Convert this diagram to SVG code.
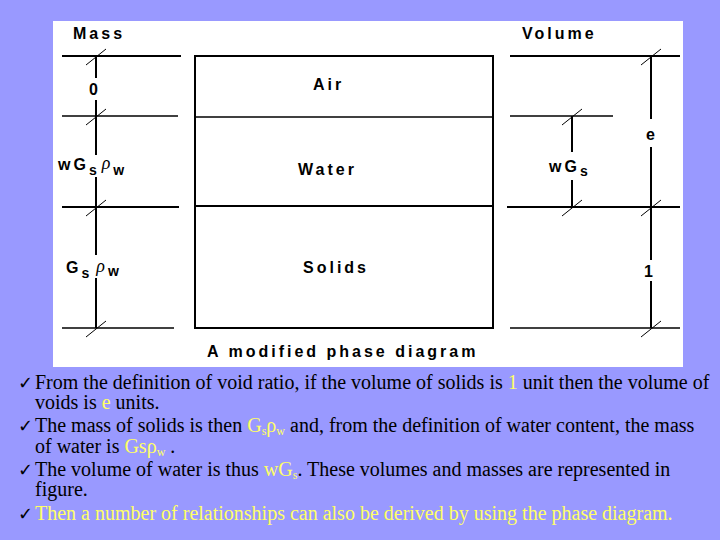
<svg xmlns="http://www.w3.org/2000/svg" width="720" height="540" viewBox="0 0 720 540">
<style>
.lbl{font-family:"Liberation Sans",Arial,sans-serif;font-weight:bold;font-size:16px;fill:#000;letter-spacing:3px}
.sub{font-size:14px}
.rho{font-family:"Liberation Serif","Times New Roman",serif;font-style:italic;font-weight:normal;font-size:18px}
.thick{stroke:#000;stroke-width:2;fill:none}
.thin{stroke:#000;stroke-width:1.5;fill:none}
.tick{stroke:#000;stroke-width:1;fill:none}
.body{font-family:"Liberation Serif","Times New Roman",serif;font-size:20px;fill:#000}
.y{fill:#FFFF66}
.chk{font-family:"DejaVu Sans",sans-serif;font-size:18px;fill:#000}
</style>
<rect x="0" y="0" width="720" height="540" fill="#9999FF"/>
<rect x="53" y="21" width="630" height="346" fill="#FFFFFF"/>

<g id="phases">
  <rect x="195" y="56" width="298" height="272" class="thick"/>
  <line x1="195" y1="117" x2="493" y2="117" class="thin"/>
  <line x1="195" y1="206" x2="493" y2="206" class="thick"/>
  <text x="313" y="90" class="lbl">Air</text>
  <text x="298" y="175" class="lbl">Water</text>
  <text x="303" y="273" class="lbl">Solids</text>
</g>

<g id="mass">
  <text x="73" y="39" class="lbl">Mass</text>
  <line x1="62" y1="56" x2="181" y2="56" class="thick"/>
  <line x1="62" y1="116" x2="178" y2="116" class="thin"/>
  <line x1="62" y1="207" x2="179" y2="207" class="thick"/>
  <line x1="62" y1="328" x2="174" y2="328" class="thin"/>
  <path d="M96 56V78M96 100V155M96 177V255M96 278V328" class="thick"/>
  <text x="89" y="95" class="lbl">0</text>
  <text x="58" y="170" class="lbl">wG<tspan class="sub" dy="5">s</tspan><tspan class="rho" dy="-6" dx="2">ρ</tspan><tspan class="sub" dy="6">w</tspan></text>
  <text x="66" y="273" class="lbl">G<tspan class="sub" dy="5">s</tspan><tspan class="rho" dy="-6" dx="4">ρ</tspan><tspan class="sub" dy="4">w</tspan></text>
</g>

<g id="volume">
  <text x="522" y="39" class="lbl">Volume</text>
  <line x1="510" y1="56" x2="680" y2="56" class="thick"/>
  <line x1="510" y1="116" x2="613" y2="116" class="thin"/>
  <line x1="507" y1="207" x2="680" y2="207" class="thick"/>
  <line x1="510" y1="328" x2="680" y2="328" class="thin"/>
  <path d="M651 56V119M651 147V260M651 281V328M572 116V152M572 180V207" class="thick"/>
  <text x="646" y="140" class="lbl">e</text>
  <text x="549" y="172" class="lbl">wG<tspan class="sub" dy="4">s</tspan></text>
  <text x="644" y="277" class="lbl">1</text>
</g>

<g id="ticks">
  <path d="M86 65L106 49M86 125L106 109M86 216L106 200M86 337L106 321M562 125L582 109M562 216L582 200M641 65L661 49M641 216L661 200M641 337L661 321" class="tick"/>
</g>

<text x="207" y="357" class="lbl">A modified phase diagram</text>

<g id="notes">
  <text x="18" y="389" class="chk">✓</text>
  <text x="35" y="389" class="body">From the definition of void ratio, if the volume of solids is <tspan class="y">1</tspan> unit then the volume of</text>
  <text x="35" y="409" class="body">voids is <tspan class="y">e</tspan> units.</text>
  <text x="18" y="432" class="chk">✓</text>
  <text x="35" y="432" class="body">The mass of solids is then <tspan class="y">G<tspan font-size="12" dy="3">s</tspan><tspan dy="-3">ρ</tspan><tspan font-size="12" dy="3">w</tspan></tspan><tspan dy="-3">  and, from the definition of water content, the mass</tspan></text>
  <text x="35" y="453" class="body">of water is <tspan class="y">Gsρ<tspan font-size="12" dy="3">w</tspan></tspan><tspan dy="-3"> .</tspan></text>
  <text x="18" y="476" class="chk">✓</text>
  <text x="35" y="476" class="body">The volume of water is thus <tspan class="y">wG<tspan font-size="12" dy="3">s</tspan></tspan><tspan dy="-3">. These volumes and masses are represented in</tspan></text>
  <text x="35" y="496" class="body">figure.</text>
  <text x="18" y="520" class="chk y">✓</text>
  <text x="35" y="520" class="body y">Then a number of relationships can also be derived by using the phase diagram.</text>
</g>
</svg>
